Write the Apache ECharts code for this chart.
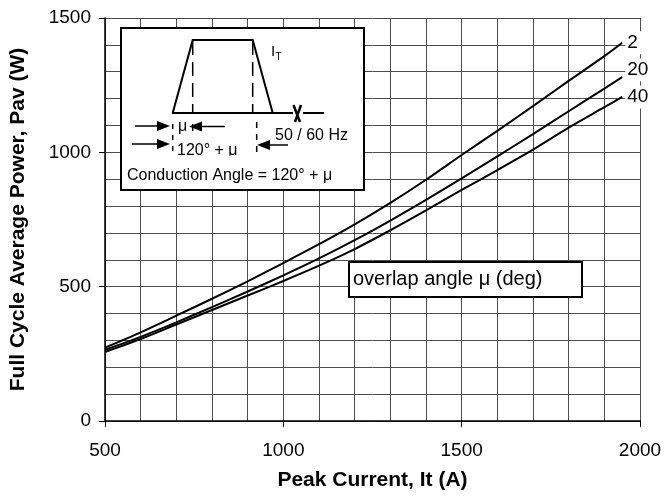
<!DOCTYPE html>
<html>
<head>
<meta charset="utf-8">
<script src="https://cdn.jsdelivr.net/npm/echarts@6/dist/echarts.min.js"></script>
<style>
  html, body { margin: 0; padding: 0; background: #fff; }
  #chart { width: 665px; height: 496px; }
</style>
</head>
<body>
<div id="chart"></div>
<script>
const current = [500, 600, 700, 800, 900, 1000, 1100, 1200, 1300, 1400, 1500, 1600, 1700, 1800, 1900, 1950];
const overlap2 = [273, 330, 392, 455, 520, 588, 658, 732, 812, 898, 990, 1080, 1172, 1266, 1358, 1408];
const overlap20 = [265, 313, 367, 424, 482, 542, 605, 673, 746, 823, 903, 985, 1068, 1153, 1237, 1280];
const overlap40 = [257, 305, 359, 413, 467, 521, 578, 640, 710, 784, 860, 934, 1010, 1092, 1168, 1206];
const xTicks = [500, 1000, 1500, 2000];
const yTicks = [0, 500, 1000, 1500];

const font = 'Liberation Sans, Arial, sans-serif';
const gridColor = '#4d4d4d';

function curve(name, values, dy) {
  return {
    name: name,
    type: 'line',
    smooth: 0.3,
    symbol: 'none',
    data: current.map((x, i) => [x, values[i]]),
    lineStyle: { color: '#000', width: 2 },
    endLabel: {
      show: true,
      formatter: name,
      color: '#000',
      fontFamily: font,
      fontSize: 19,
      backgroundColor: '#fff',
      padding: [2, 12, 2, 2],
      distance: 3,
      offset: [0, dy]
    },
    z: 3
  };
}

function arrow(x1, x2, y) {
  const dir = x2 > x1 ? 1 : -1;
  return [
    { type: 'line', z: 100, shape: { x1: x1, y1: y, x2: x2 - dir * 10, y2: y }, style: { stroke: '#000', lineWidth: 1.5 } },
    { type: 'polygon', z: 100, shape: { points: [[x2, y], [x2 - dir * 13, y - 5], [x2 - dir * 13, y + 5]] }, style: { fill: '#000' } }
  ];
}

function seg(x1, y1, x2, y2, w, dash) {
  return { type: 'line', z: 100, shape: { x1: x1, y1: y1, x2: x2, y2: y2 }, style: { stroke: '#000', lineWidth: w, lineDash: dash || null } };
}

function label(text, x, y, size) {
  return { type: 'text', z: 101, x: x, y: y, style: { text: text, font: size + 'px ' + font, fill: '#000', verticalAlign: 'middle' } };
}

const inset = [
  { type: 'rect', z: 99, shape: { x: 121, y: 28, width: 243, height: 162 }, style: { fill: '#fff', stroke: '#000', lineWidth: 2 } },
  { type: 'polyline', z: 100, shape: { points: [[172.7, 113], [192.7, 40], [252.7, 40], [272.7, 113]] }, style: { stroke: '#000', lineWidth: 2, fill: null } },
  seg(172, 113, 293, 113, 2),
  seg(303, 113, 324, 113, 2),
  seg(293.5, 105, 300, 122, 2.5),
  seg(301, 105, 295, 122, 2.5),
  seg(192.7, 41, 192.7, 112, 1.5, [14, 7]),
  seg(252.7, 41, 252.7, 112, 1.5, [14, 7]),
  seg(172.7, 124, 172.7, 156, 1.5, [5, 6]),
  seg(192.7, 124, 192.7, 131, 1.5),
  seg(256.7, 122, 256.7, 153, 1.5, [6, 6]),
  label('I', 271, 52, 15),
  label('T', 275.5, 57, 10),
  label('μ', 178, 127, 16),
  label('120° + μ', 177, 151, 16),
  { type: 'rect', z: 102, shape: { x: 176, y: 155.5, width: 68, height: 6 }, style: { fill: '#fff' } },
  label('50 / 60 Hz', 275, 136, 16),
  label('Conduction Angle = 120° + μ', 127, 176, 16)
]
  .concat(arrow(135, 170, 126))
  .concat(arrow(225, 189, 126.5))
  .concat(arrow(132, 170, 144))
  .concat(arrow(288, 257, 145));

const overlapBox = [
  { type: 'rect', z: 99, shape: { x: 349, y: 262, width: 233, height: 35 }, style: { fill: '#fff', stroke: '#000', lineWidth: 2 } },
  label('overlap angle μ (deg)', 353, 279, 20)
];

const chart = echarts.init(document.getElementById('chart'), null, { renderer: 'canvas' });
chart.setOption({
  animation: false,
  backgroundColor: '#fff',
  grid: { left: 104, right: 25, top: 18, bottom: 74 },
  xAxis: {
    type: 'value',
    min: xTicks[0],
    max: xTicks[xTicks.length - 1],
    interval: 500,
    name: 'Peak Current, It (A)',
    nameLocation: 'middle',
    nameGap: 49,
    nameTextStyle: { fontFamily: font, fontSize: 21, fontWeight: 'bold', color: '#000' },
    axisLine: { lineStyle: { color: '#000', width: 1.5 } },
    axisTick: { length: 6, lineStyle: { color: '#000' } },
    axisLabel: { fontFamily: font, fontSize: 19, color: '#000', margin: 20, formatter: v => String(v) },
    splitLine: { show: true, lineStyle: { color: gridColor, width: 1 } },
    minorTick: { show: false, splitNumber: 5 },
    minorSplitLine: { show: true, lineStyle: { color: gridColor, width: 1 } }
  },
  yAxis: {
    type: 'value',
    min: yTicks[0],
    max: yTicks[yTicks.length - 1],
    interval: 500,
    name: 'Full Cycle Average Power, Pav (W)',
    nameLocation: 'middle',
    nameGap: 76,
    nameTextStyle: { fontFamily: font, fontSize: 21, fontWeight: 'bold', color: '#000' },
    axisLine: { show: true, lineStyle: { color: '#000', width: 1.5 } },
    axisTick: { show: true, length: 6, lineStyle: { color: '#000' } },
    axisLabel: { fontFamily: font, fontSize: 19, color: '#000', margin: 14, formatter: v => String(v) },
    splitLine: { show: true, lineStyle: { color: gridColor, width: 1 } },
    minorTick: { show: false, splitNumber: 5 },
    minorSplitLine: { show: true, lineStyle: { color: gridColor, width: 1 } }
  },
  series: [
    curve('2', overlap2, 0),
    curve('20', overlap20, -7),
    curve('40', overlap40, 0)
  ],
  graphic: inset.concat(overlapBox)
});
</script>
</body>
</html>
